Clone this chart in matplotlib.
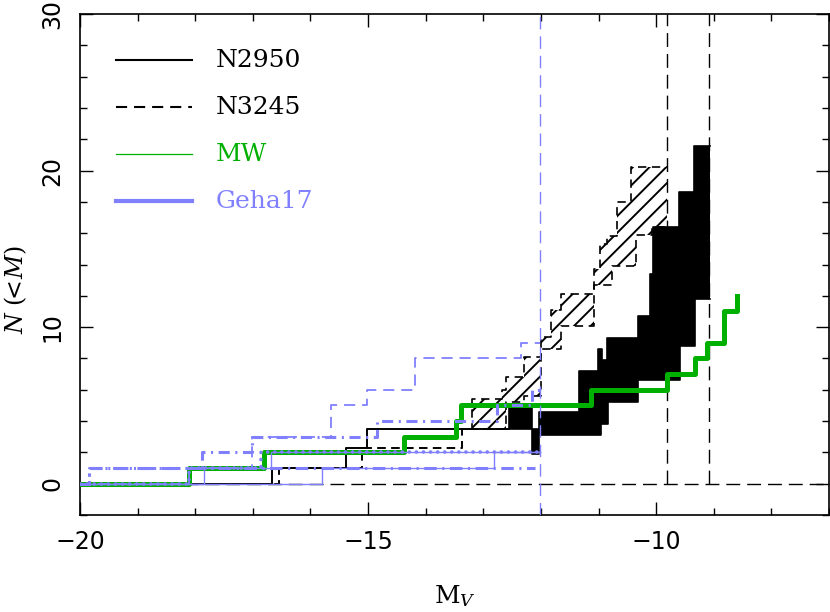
import matplotlib
matplotlib.use('Agg')
import matplotlib.pyplot as plt
from matplotlib.ticker import MultipleLocator

plt.rcParams['mathtext.fontset'] = 'dejavuserif'
plt.rcParams['lines.scale_dashes'] = False
plt.rcParams['hatch.linewidth'] = 1.4
plt.rcParams['hatch.color'] = 'black'

GREEN = '#00b000'
BLUE = '#8080ff'

# ---------------- data ----------------
# NGC 2950 band (upper / lower cumulative counts, step 'post')
n2950_mag = [-20.0, -16.67, -15.38, -15.02, -12.56, -12.16, -12.04, -11.34, -11.01, -10.96,
             -10.94, -10.86, -10.83, -10.31, -10.10, -10.06, -9.61, -9.58, -9.35, -9.32, -9.06]
n2950_hi = [0, 1, 2.25, 3.5, 4.9, 3.5, 4.6, 7.2, 8.6, 8.6,
            7.9, 9.3, 9.3, 10.7, 13.4, 16.4, 18.6, 18.6, 21.6, 21.6, 21.6]
n2950_lo = [0, 1, 2.25, 3.5, 3.5, 1.9, 3.1, 3.1, 3.1, 3.8,
            3.8, 3.8, 5.2, 6.65, 6.65, 6.65, 6.65, 8.8, 8.8, 11.8, 11.8]

# NGC 3245 band
n3245_mag = [-20.0, -16.55, -15.1, -13.37, -13.2, -12.68, -12.6, -12.3, -12.0, -11.83,
             -11.66, -11.08, -10.97, -10.85, -10.77, -10.68, -10.44, -10.35, -10.07, -9.82]
n3245_hi = [0, 1, 2.25, 3.5, 5.4, 6.0, 6.8, 8.1, 9.4, 11.1,
            12.1, 13.7, 15.3, 15.8, 15.8, 18.0, 20.2, 20.2, 20.2, 20.2]
n3245_lo = [0, 1, 2.25, 3.5, 3.5, 3.5, 5.2, 5.6, 8.6, 8.6,
            10.1, 12.7, 12.7, 12.7, 13.9, 13.9, 13.9, 15.9, 16.4, 16.4]

# Milky Way
mw_mag = [-20.0, -18.1, -16.8, -14.37, -13.47, -13.38, -11.13, -9.82, -9.32, -9.12, -8.82, -8.6]
mw_n = [0, 1, 2, 3, 4, 5, 6, 7, 8, 9, 11, 12]

# Geha et al. 2017 hosts
g1_mag = [-20.0, -18.1, -17.02, -15.64, -15.02, -14.18, -12.35, -12.02]
g1_n = [0, 1, 3, 5, 6, 8, 9, 9]
g2_mag = [-20.0, -19.85, -17.88, -17.02, -14.85, -12.76, -12.16, -12.02]
g2_n = [0, 1, 2, 3, 4, 5, 6, 6]
g3_mag = [-20.0, -19.85, -12.1]
g3_n = [0, 1, 1]
g4_mag = [-20.0, -18.1, -16.85, -12.02]
g4_n = [0, 1, 2, 2]
g5_mag = [-20.0, -15.8, -12.82, -12.02]
g5_n = [0, 1, 2, 2]
g6_mag = [-20.0, -17.84, -16.68, -12.02]
g6_n = [0, 1, 2, 2]

# reference limits
geha_limit = -12.02
n_limits = [-9.82, -9.09]

legend_labels = ['N2950', 'N3245', 'MW', 'Geha17']
legend_y = [27.06, 24.06, 21.05, 18.04]

# ---------------- figure ----------------
fig = plt.figure(figsize=(8.3, 6.12), dpi=100)
ax = fig.add_axes([0.0964, 0.1585, 0.9024, 0.8186])
ax.set_xlim(-20, -7)
ax.set_ylim(-2, 30)

# reference lines
ax.axhline(0, color='k', lw=1.0, dashes=(10, 5), zorder=1)
for xl in n_limits:
    ax.plot([xl, xl], [0, 30], color='k', lw=1.0, dashes=(10, 5), zorder=1)
ax.axvline(geha_limit, color=BLUE, lw=1.0, dashes=(9, 5), zorder=6)

# N2950 filled band
ax.fill_between(n2950_mag, n2950_lo, n2950_hi, step='post', facecolor='k',
                edgecolor='k', lw=0, zorder=2)
ax.step(n2950_mag, n2950_hi, where='post', color='k', lw=1.2, zorder=3)
ax.step(n2950_mag, n2950_lo, where='post', color='k', lw=1.2, zorder=3)

# N3245 hatched band
ax.fill_between(n3245_mag, n3245_lo, n3245_hi, step='post', facecolor='none',
                edgecolor='k', hatch='//', lw=0, zorder=2)
ax.step(n3245_mag, n3245_hi, where='post', color='k', lw=1.2, dashes=(6, 4), zorder=3)
ax.step(n3245_mag, n3245_lo, where='post', color='k', lw=1.2, dashes=(6, 4), zorder=3)

# Milky Way
ax.step(mw_mag, mw_n, where='post', color=GREEN, lw=3.6, zorder=5)

# Geha17
ax.step(g1_mag, g1_n, where='post', color=BLUE, lw=1.3, dashes=(8, 5), zorder=6)
ax.step(g2_mag, g2_n, where='post', color=BLUE, lw=2.2, dashes=(8, 4, 1.5, 4), zorder=6)
ax.step(g3_mag, g3_n, where='post', color=BLUE, lw=2.2, dashes=(9, 4, 1.5, 4), zorder=6)
ax.step(g4_mag, g4_n, where='post', color=BLUE, lw=2.6, dashes=(0.1, 5),
        dash_capstyle='round', zorder=6)
ax.step(g5_mag, g5_n, where='post', color=BLUE, lw=1.0, zorder=6)
ax.step(g6_mag, g6_n, where='post', color=BLUE, lw=1.0, zorder=6)

# legend (drawn manually)
lx = [-19.37, -18.05]
ax.plot(lx, [legend_y[0]] * 2, color='k', lw=1.5)
ax.plot(lx, [legend_y[1]] * 2, color='k', lw=1.5, dashes=(8, 5))
ax.plot(lx, [legend_y[2]] * 2, color=GREEN, lw=0.9)
ax.plot(lx, [legend_y[3]] * 2, color=BLUE, lw=3.0)
for lab, yy, c in zip(legend_labels, legend_y, ['k', 'k', GREEN, BLUE]):
    ax.text(-17.65, yy, lab, color=c, fontsize=18, family='DejaVu Serif',
            va='center', ha='left')

# axes styling
ax.set_xticks([-20, -15, -10])
ax.xaxis.set_minor_locator(MultipleLocator(1))
ax.set_yticks([0, 10, 20, 30])
ax.yaxis.set_minor_locator(MultipleLocator(2))
ax.tick_params(which='both', direction='in', top=True, right=True, width=1.0,
               labelsize=17, pad=11)
ax.tick_params(which='major', length=9.5)
ax.tick_params(which='minor', length=4.8)
for t in ax.get_yticklabels():
    t.set_rotation(90)
    t.set_va('center')
for s in ax.spines.values():
    s.set_linewidth(1.2)

ax.set_xlabel(r'$\mathrm{M}_V$', fontsize=18)
ax.xaxis.set_label_coords(0.5, -0.135)
ax.set_ylabel(r'$N\ (\!\!{<}\!M)$', fontsize=17)
ax.yaxis.set_label_coords(-0.068, 0.45)

fig.savefig('out.png', dpi=100)
